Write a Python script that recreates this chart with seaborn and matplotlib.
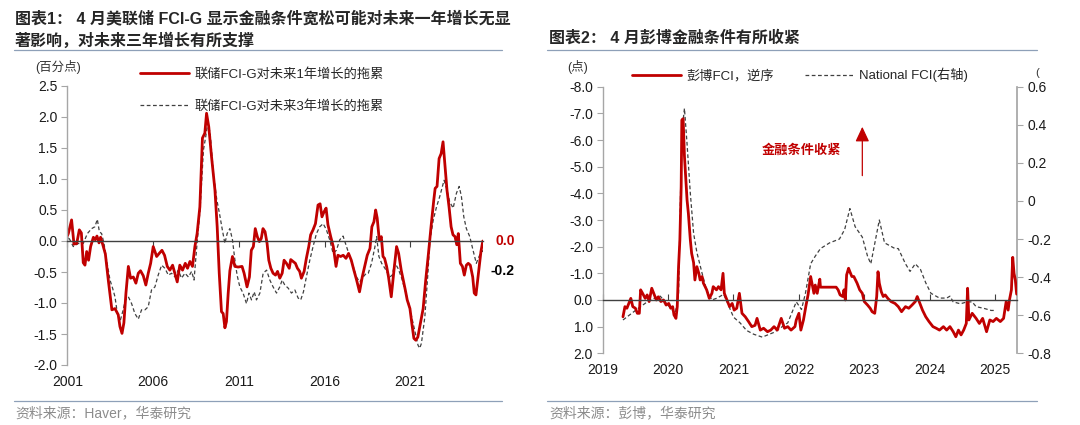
import matplotlib
matplotlib.use("Agg")
import matplotlib.pyplot as plt
import seaborn as sns
from matplotlib.lines import Line2D
from matplotlib.ticker import FuncFormatter

# ---- data: left chart (FCI-G drag on growth, pp) ----
fcig_1y_x = [2001.0, 2001.06, 2001.25, 2001.39, 2001.55, 2001.70, 2001.82, 2001.93, 2002.03, 2002.13,
             2002.24, 2002.36, 2002.52, 2002.63, 2002.73, 2002.85, 2002.94, 2003.06, 2003.22, 2003.39,
             2003.60, 2003.78, 2003.97, 2004.07, 2004.19, 2004.30, 2004.42, 2004.56, 2004.69, 2004.85,
             2005.00, 2005.14, 2005.27, 2005.43, 2005.58, 2005.72, 2005.86, 2006.01, 2006.21, 2006.36,
             2006.52, 2006.67, 2006.83, 2006.98, 2007.14, 2007.27, 2007.41, 2007.56, 2007.72, 2007.88,
             2008.01, 2008.15, 2008.30, 2008.44, 2008.57, 2008.73, 2008.88, 2009.02, 2009.12, 2009.25,
             2009.41, 2009.61, 2009.74, 2009.86, 2009.99, 2010.09, 2010.19, 2010.28, 2010.38, 2010.48,
             2010.63, 2010.77, 2010.96, 2011.19, 2011.31, 2011.48, 2011.62, 2011.73, 2011.85, 2011.96,
             2012.08, 2012.20, 2012.31, 2012.41, 2012.53, 2012.65, 2012.75, 2012.87, 2013.00, 2013.14,
             2013.26, 2013.39, 2013.53, 2013.64, 2013.78, 2013.94, 2014.03, 2014.17, 2014.30, 2014.42,
             2014.55, 2014.65, 2014.81, 2014.94, 2015.08, 2015.19, 2015.33, 2015.47, 2015.62, 2015.74,
             2015.85, 2015.97, 2016.09, 2016.20, 2016.36, 2016.51, 2016.67, 2016.78, 2016.94, 2017.09,
             2017.25, 2017.40, 2017.56, 2017.71, 2017.87, 2018.04, 2018.20, 2018.34, 2018.49, 2018.65,
             2018.76, 2018.88, 2018.98, 2019.07, 2019.19, 2019.31, 2019.41, 2019.50, 2019.62, 2019.73,
             2019.89, 2020.05, 2020.20, 2020.32, 2020.47, 2020.59, 2020.71, 2020.82, 2020.98, 2021.09,
             2021.21, 2021.32, 2021.44, 2021.59, 2021.75, 2021.90, 2022.06, 2022.21, 2022.37, 2022.45,
             2022.56, 2022.68, 2022.80, 2022.91, 2023.03, 2023.14, 2023.26, 2023.38, 2023.49, 2023.61,
             2023.71, 2023.80, 2023.92, 2024.04, 2024.15, 2024.27, 2024.38, 2024.50, 2024.64, 2024.73,
             2024.83, 2024.93, 2025.02, 2025.12, 2025.23]
fcig_1y_v = [0.08, 0.12, 0.34, -0.05, -0.04, 0.18, 0.13, -0.35, -0.39, -0.17,
             -0.31, -0.09, 0.06, 0.02, 0.08, -0.03, 0.06, -0.05, -0.21, -0.63,
             -1.11, -1.09, -1.19, -1.38, -1.49, -1.32, -0.84, -0.41, -0.60, -0.58,
             -0.68, -0.52, -0.48, -0.56, -0.71, -0.52, -0.36, -0.09, -0.25, -0.20,
             -0.15, -0.23, -0.41, -0.47, -0.39, -0.52, -0.66, -0.39, -0.47, -0.36,
             -0.44, -0.33, -0.41, -0.09, 0.12, 0.55, 1.66, 1.74, 2.06, 1.84,
             1.36, 0.82, 0.23, -0.52, -1.14, -1.17, -1.40, -1.30, -0.85, -0.48,
             -0.25, -0.41, -0.42, -0.41, -0.52, -0.74, -0.58, -0.15, -0.09, 0.20,
             0.07, -0.01, 0.04, 0.20, 0.15, -0.04, -0.31, -0.44, -0.52, -0.55,
             -0.49, -0.60, -0.52, -0.31, -0.36, -0.44, -0.30, -0.33, -0.36, -0.44,
             -0.49, -0.60, -0.49, -0.28, -0.09, 0.10, 0.18, 0.28, 0.58, 0.60,
             0.39, 0.47, 0.53, 0.26, 0.07, -0.09, -0.41, -0.23, -0.25, -0.23,
             -0.28, -0.20, -0.31, -0.47, -0.63, -0.82, -0.58, -0.41, -0.23, -0.12,
             0.23, 0.31, 0.50, 0.37, 0.02, 0.07, -0.25, -0.28, -0.41, -0.58,
             -0.90, -0.47, -0.09, -0.20, -0.47, -0.63, -0.79, -0.95, -1.09, -1.33,
             -1.57, -1.60, -1.55, -1.33, -1.09, -0.63, -0.20, 0.23, 0.66, 0.85,
             0.88, 1.33, 1.41, 1.60, 1.20, 0.82, 0.55, 0.23, 0.10, 0.07,
             -0.06, 0.12, -0.36, -0.41, -0.55, -0.39, -0.36, -0.39, -0.58, -0.84,
             -0.87, -0.63, -0.41, -0.17, 0.0]

fcig_3y_x = [2001.0, 2001.06, 2001.35, 2001.64, 2001.93, 2002.17, 2002.42, 2002.61, 2002.75, 2002.87,
             2003.0, 2003.14, 2003.29, 2003.49, 2003.64, 2003.78, 2003.92, 2004.07, 2004.23, 2004.39,
             2004.56, 2004.75, 2004.94, 2005.14, 2005.33, 2005.53, 2005.72, 2005.91, 2006.11, 2006.30,
             2006.50, 2006.69, 2006.89, 2007.08, 2007.28, 2007.47, 2007.66, 2007.86, 2008.06, 2008.25,
             2008.39, 2008.55, 2008.74, 2008.94, 2009.07, 2009.19, 2009.33, 2009.52, 2009.72, 2009.87,
             2010.04, 2010.19, 2010.32, 2010.48, 2010.63, 2010.77, 2010.90, 2011.06, 2011.25, 2011.45,
             2011.59, 2011.74, 2011.90, 2012.03, 2012.23, 2012.42, 2012.62, 2012.81, 2013.0, 2013.2,
             2013.39, 2013.53, 2013.68, 2013.88, 2014.07, 2014.27, 2014.46, 2014.61, 2014.77, 2014.94,
             2015.14, 2015.33, 2015.53, 2015.72, 2015.92, 2016.11, 2016.30, 2016.50, 2016.69, 2016.89,
             2017.08, 2017.28, 2017.47, 2017.67, 2017.86, 2018.05, 2018.25, 2018.44, 2018.55, 2018.74,
             2018.94, 2019.04, 2019.17, 2019.33, 2019.52, 2019.68, 2019.81, 2019.95, 2020.1, 2020.3,
             2020.5, 2020.7, 2020.9, 2021.1, 2021.3, 2021.45, 2021.55, 2021.65, 2021.85, 2022.04,
             2022.14, 2022.34, 2022.53, 2022.72, 2022.97, 2023.11, 2023.30, 2023.50, 2023.69, 2023.85,
             2023.98, 2024.12, 2024.27, 2024.47, 2024.66, 2024.85, 2025.01, 2025.18, 2025.23]
fcig_3y_v = [0.0, 0.07, -0.09, -0.04, -0.04, 0.12, 0.20, 0.23, 0.35, 0.15,
             0.12, -0.04, -0.31, -0.63, -0.76, -0.90, -1.17, -1.30, -1.14, -0.95,
             -0.90, -1.01, -1.17, -1.26, -1.11, -1.11, -1.06, -0.79, -0.74, -0.55,
             -0.39, -0.44, -0.55, -0.52, -0.58, -0.47, -0.60, -0.52, -0.58, -0.49,
             -0.63, -0.09, 0.50, 1.47, 1.68, 1.90, 1.74, 1.09, 0.66, 0.45,
             0.18, -0.04, 0.12, 0.20, 0.02, -0.30, -0.55, -0.74, -0.84, -1.01,
             -0.84, -0.95, -0.82, -0.95, -0.84, -0.52, -0.47, -0.63, -0.74, -0.84,
             -0.74, -0.63, -0.71, -0.76, -0.84, -0.79, -0.92, -0.95, -0.82, -0.58,
             -0.31, -0.09, 0.12, 0.23, 0.28, 0.18, 0.02, -0.20, -0.15, 0.02,
             0.08, -0.09, -0.25, -0.41, -0.58, -0.66, -0.58, -0.52, -0.52, -0.36,
             -0.09, 0.07, -0.25, -0.36, -0.44, -0.52, -0.58, -0.55, -0.35, -0.45,
             -0.60, -0.80, -1.00, -1.25, -1.50, -1.68, -1.73, -1.65, -1.22, -0.47,
             0.0, 0.34, 0.55, 0.72, 0.98, 0.85, 0.63, 0.53, 0.77, 0.88,
             0.72, 0.39, 0.20, 0.07, -0.15, -0.36, -0.25, -0.15, -0.20]

left_years = [2001, 2006, 2011, 2016, 2021]
left_yticks = [-2.0, -1.5, -1.0, -0.5, 0.0, 0.5, 1.0, 1.5, 2.0, 2.5]

# ---- data: right chart (Bloomberg FCI inverted, National FCI) ----
bbg_x = [2019.31, 2019.34, 2019.37, 2019.40, 2019.43, 2019.46, 2019.50, 2019.53, 2019.56, 2019.58,
         2019.61, 2019.65, 2019.68, 2019.71, 2019.75, 2019.78, 2019.82, 2019.85, 2019.89, 2019.93,
         2019.97, 2020.01, 2020.04, 2020.07, 2020.09, 2020.12, 2020.14, 2020.16, 2020.18, 2020.20,
         2020.21, 2020.23, 2020.25, 2020.27, 2020.29, 2020.31, 2020.34, 2020.36, 2020.39, 2020.41,
         2020.44, 2020.47, 2020.49, 2020.52, 2020.54, 2020.59, 2020.63, 2020.67, 2020.69, 2020.74,
         2020.77, 2020.81, 2020.84, 2020.86, 2020.90, 2020.94, 2020.98, 2021.01, 2021.05, 2021.09,
         2021.13, 2021.18, 2021.23, 2021.28, 2021.33, 2021.36, 2021.41, 2021.46, 2021.52, 2021.57,
         2021.62, 2021.67, 2021.73, 2021.78, 2021.83, 2021.88, 2021.94, 2021.96, 2022.00, 2022.03,
         2022.07, 2022.11, 2022.14, 2022.18, 2022.20, 2022.23, 2022.25, 2022.28, 2022.32, 2022.33,
         2022.57, 2022.60, 2022.63, 2022.67, 2022.69, 2022.71, 2022.73, 2022.76, 2022.78, 2022.81,
         2022.84, 2022.89, 2022.93, 2022.97, 2023.00, 2023.05, 2023.09, 2023.12, 2023.16, 2023.19,
         2023.21, 2023.23, 2023.26, 2023.29, 2023.32, 2023.36, 2023.41, 2023.47, 2023.52, 2023.57,
         2023.63, 2023.68, 2023.73, 2023.78, 2023.81, 2023.84, 2023.89, 2023.94, 2023.99, 2024.05,
         2024.10, 2024.15, 2024.21, 2024.26, 2024.31, 2024.36, 2024.40, 2024.44, 2024.48, 2024.52,
         2024.56, 2024.58, 2024.60, 2024.65, 2024.71, 2024.76, 2024.81, 2024.87, 2024.92, 2024.97,
         2025.02, 2025.08, 2025.13, 2025.17, 2025.20, 2025.22, 2025.25, 2025.27, 2025.29, 2025.31,
         2025.33]
bbg_v = [0.63, 0.25, 0.31, 0.13, -0.06, 0.25, 0.31, 0.50, 0.50, -0.38,
         -0.25, -0.06, -0.19, 0.06, -0.44, -0.25, 0.0, -0.12, 0.06, 0.0,
         0.19, 0.13, 0.31, 0.25, 0.56, 0.69, 0.25, -1.25, -2.25, -4.25,
         -6.75, -6.80, -5.40, -4.60, -3.75, -3.25, -2.25, -1.75, -1.40, -0.75,
         -1.25, -1.00, -0.75, -0.88, -0.63, -0.38, -0.06, -0.25, -0.50, -0.38,
         -0.50, -0.38, -1.00, -0.25, 0.0, 0.25, 0.13, 0.38, 0.31, -0.25,
         0.50, 0.63, 0.81, 1.00, 0.95, 0.69, 1.13, 1.06, 1.19, 1.13,
         1.00, 1.13, 0.69, 1.06, 1.00, 1.13, 1.00, 0.75, 0.50, 1.13,
         0.75, 0.19, -0.19, -0.88, -0.63, -0.25, -0.56, -0.25, -0.78, -0.48,
         -0.48, -0.38, -0.19, -0.13, -0.38, 0.0, -0.94, -1.19, -1.06, -0.88,
         -0.88, -0.63, -0.38, -0.25, 0.06, 0.19, 0.31, 0.44, 0.50, -0.13,
         -1.06, -0.63, -0.31, -0.13, -0.19, -0.06, 0.06, 0.13, 0.25, 0.44,
         0.25, 0.31, 0.19, 0.06, -0.13, 0.06, 0.38, 0.63, 0.81, 1.00,
         1.06, 1.13, 1.00, 1.13, 1.00, 1.19, 1.38, 1.13, 1.31, 1.13,
         0.88, -0.44, 0.75, 0.50, 0.69, 0.88, 0.69, 1.19, 0.75, 0.81,
         0.69, 0.81, 0.69, 0.06, 0.38, 0.0, -0.38, -1.60, -1.00, -0.75,
         -0.22]

nfci_x = [2019.31, 2019.52, 2019.72, 2019.88, 2020.03, 2020.11, 2020.16, 2020.19, 2020.22, 2020.25,
          2020.29, 2020.34, 2020.39, 2020.44, 2020.52, 2020.59, 2020.67, 2020.75, 2020.85, 2020.92,
          2021.0, 2021.1, 2021.2, 2021.31, 2021.44, 2021.62, 2021.83, 2021.96, 2022.04, 2022.10,
          2022.18, 2022.25, 2022.33, 2022.47, 2022.62, 2022.70, 2022.78, 2022.86, 2022.97, 2023.05,
          2023.10, 2023.23, 2023.31, 2023.47, 2023.52, 2023.63, 2023.70, 2023.78, 2023.86, 2023.94,
          2024.02, 2024.15, 2024.26, 2024.31, 2024.36, 2024.47, 2024.57, 2024.65, 2024.71, 2024.84,
          2024.94, 2025.0]
nfci_v = [-0.625, -0.57, -0.52, -0.50, -0.56, -0.59, -0.485, 0.04, 0.39, 0.486,
          0.30, 0.04, -0.17, -0.27, -0.38, -0.47, -0.52, -0.51, -0.49, -0.545,
          -0.61, -0.64, -0.68, -0.70, -0.715, -0.69, -0.64, -0.53, -0.57, -0.485,
          -0.33, -0.29, -0.25, -0.22, -0.20, -0.15, -0.04, -0.135, -0.19, -0.29,
          -0.33, -0.10, -0.22, -0.25, -0.25, -0.33, -0.37, -0.33, -0.36, -0.43,
          -0.485, -0.51, -0.51, -0.50, -0.53, -0.54, -0.53, -0.53, -0.555, -0.565,
          -0.575, -0.575]

right_years = [2019, 2020, 2021, 2022, 2023, 2024, 2025]
right_yticks = [-8.0, -7.0, -6.0, -5.0, -4.0, -3.0, -2.0, -1.0, 0.0, 1.0, 2.0]
right_y2ticks = [-0.8, -0.6, -0.4, -0.2, 0.0, 0.2, 0.4, 0.6]

RED = "#C00000"
DASH = "#404040"
SPINE = "#A6A6A6"
RULE = "#8EA0B8"

sns.set_theme(style="white")
plt.rcParams["font.family"] = ["Liberation Sans", "Noto Sans CJK SC"]
plt.rcParams["axes.unicode_minus"] = False

W, H = 1080, 425
fig = plt.figure(figsize=(W / 100, H / 100), dpi=100)


def fx(px):
    return px / W


def fy(py):
    return 1 - py / H


def style_zero_axis(ax, years, direction):
    for s in ["top", "right"]:
        ax.spines[s].set_visible(False)
    ax.spines["left"].set_color(SPINE)
    ax.spines["left"].set_linewidth(1.0)
    ax.spines["bottom"].set_position(("data", 0))
    ax.spines["bottom"].set_color(DASH)
    ax.spines["bottom"].set_linewidth(1.0)
    ax.set_xticks(years)
    ax.tick_params(axis="x", labelbottom=False, direction=direction, length=4,
                   width=0.8, color=DASH, bottom=True)
    ax.tick_params(axis="y", direction="out", length=4, width=0.8, color=SPINE,
                   left=True, labelsize=10, pad=3, labelcolor="#1a1a1a")
    sec = ax.secondary_xaxis("bottom")
    sec.set_xticks(years, labels=[str(y) for y in years])
    sec.tick_params(length=0, pad=7, labelsize=10, labelcolor="#1a1a1a")
    sec.spines["bottom"].set_visible(False)
    ax.set_xlabel("")
    ax.set_ylabel("")


# ---------------- left chart ----------------
ax1 = fig.add_axes([fx(67.3), fy(365), fx(483 - 67.3), (365 - 86) / H])
sns.lineplot(x=fcig_3y_x, y=fcig_3y_v, ax=ax1, color=DASH, lw=0.9,
             linestyle=(0, (3, 2)), estimator=None, sort=False)
sns.lineplot(x=fcig_1y_x, y=fcig_1y_v, ax=ax1, color=RED, lw=2.0,
             estimator=None, sort=False)
ax1.set_xlim(2001, 2025.24)
ax1.set_ylim(-2.0, 2.5)
ax1.set_yticks(left_yticks)
ax1.yaxis.set_major_formatter(FuncFormatter(lambda v, p: f"{v:.1f}"))
style_zero_axis(ax1, left_years, "out")

ax1.text(2027.09, fcig_1y_v[-1], f"{fcig_1y_v[-1]:.1f}", color=RED, fontsize=10,
         fontweight="bold", ha="right", va="center", clip_on=False)
ax1.text(2027.09, -0.49, f"{fcig_3y_v[-1]:.1f}", color="black", fontsize=10,
         fontweight="bold", ha="right", va="center", clip_on=False)

leg1_handles = [Line2D([], [], color=RED, lw=2.0),
                Line2D([], [], color=DASH, lw=0.9, linestyle=(0, (3, 2)))]
fig.legend(leg1_handles, ["联储FCI-G对未来1年增长的拖累", "联储FCI-G对未来3年增长的拖累"],
           loc="upper left", bbox_to_anchor=(fx(140), fy(68)), frameon=False,
           fontsize=9.5, handlelength=3.7, handletextpad=0.4, labelspacing=1.45,
           borderaxespad=0, borderpad=0)

# ---------------- right chart ----------------
ax2 = fig.add_axes([fx(602.7), fy(353.3), fx(1017.3 - 602.7), (353.3 - 86.7) / H])
ax3 = ax2.twinx()
sns.lineplot(x=nfci_x, y=nfci_v, ax=ax3, color=DASH, lw=0.9,
             linestyle=(0, (3, 2)), estimator=None, sort=False)
sns.lineplot(x=bbg_x, y=bbg_v, ax=ax2, color=RED, lw=2.0,
             estimator=None, sort=False)
ax2.set_zorder(ax3.get_zorder() + 1)
ax2.patch.set_visible(False)
ax2.set_xlim(2019, 2025.34)
ax2.set_ylim(2.0, -8.0)
ax2.set_yticks(right_yticks)
ax2.yaxis.set_major_formatter(FuncFormatter(lambda v, p: f"{v:.1f}"))
style_zero_axis(ax2, right_years, "in")

ax3.set_ylim(-0.8, 0.6)
ax3.set_yticks(right_y2ticks)
ax3.yaxis.set_major_formatter(
    FuncFormatter(lambda v, p: "0" if abs(v) < 1e-9 else f"{v:.1f}"))
for s in ["top", "left", "bottom"]:
    ax3.spines[s].set_visible(False)
ax3.spines["right"].set_color(SPINE)
ax3.tick_params(axis="y", direction="out", length=4, width=0.8, color=SPINE,
                right=True, labelsize=10, pad=3, labelcolor="#1a1a1a")
ax3.set_ylabel("")

ax2.annotate("", xy=(2022.97, -6.6), xytext=(2022.97, -4.56),
             arrowprops=dict(arrowstyle="-|>,head_length=0.6,head_width=0.28",
                             color=RED, lw=0.9, mutation_scale=15))
ax2.text(2022.04, -5.62, "金融条件收紧", color=RED, fontsize=9.5,
         fontweight="bold", ha="center", va="center")

leg2_handles = [Line2D([], [], color=RED, lw=2.0),
                Line2D([], [], color=DASH, lw=0.9, linestyle=(0, (3, 2)))]
fig.legend(leg2_handles, ["彭博FCI，逆序", "National FCI(右轴)"],
           loc="upper left", bbox_to_anchor=(fx(632), fy(68)), frameon=False,
           fontsize=9.5, ncol=2, handlelength=3.7, handletextpad=0.45,
           columnspacing=2.3, borderaxespad=0, borderpad=0)

# ---------------- titles, units, rules, sources ----------------
fig.text(fx(15), fy(18), "图表1： 4 月美联储 FCI-G 显示金融条件宽松可能对未来一年增长无显",
         fontsize=11.5, fontweight="bold", va="center", ha="left")
fig.text(fx(15), fy(41), "著影响，对未来三年增长有所支撑",
         fontsize=11.5, fontweight="bold", va="center", ha="left")
fig.text(fx(549), fy(38), "图表2： 4 月彭博金融条件有所收紧",
         fontsize=11.5, fontweight="bold", va="center", ha="left")

fig.text(fx(58), fy(67), "(百分点)", fontsize=9, ha="center", va="center", color="#333333")
fig.text(fx(578), fy(67), "(点)", fontsize=9, ha="center", va="center", color="#333333")
fig.text(fx(1037), fy(73), "(", fontsize=8, ha="center", va="center", color="#333333")

for x0, x1 in [(14, 502), (547, 1037)]:
    fig.add_artist(Line2D([fx(x0), fx(x1)], [fy(49.5), fy(49.5)], color=RULE, lw=0.9))
    fig.add_artist(Line2D([fx(x0), fx(x1)], [fy(401), fy(401)], color=RULE, lw=0.9))

fig.text(fx(15), fy(413), "资料来源：Haver，华泰研究", fontsize=10, color="#8C8C8C",
         ha="left", va="center")
fig.text(fx(549), fy(413), "资料来源：彭博，华泰研究", fontsize=10, color="#8C8C8C",
         ha="left", va="center")

fig.savefig("out.png", dpi=100)
